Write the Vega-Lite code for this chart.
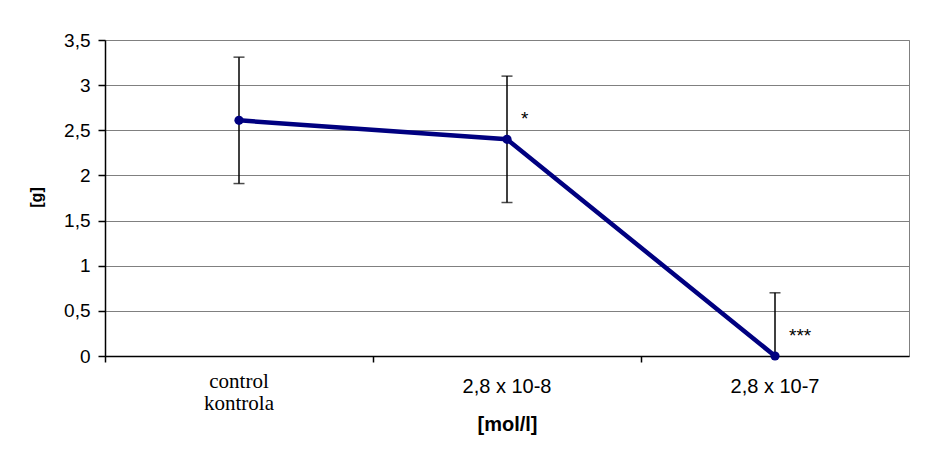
{
  "$schema": "https://vega.github.io/schema/vega-lite/v6.json",
  "width": 804,
  "height": 316,
  "autosize": {"type": "none"},
  "padding": {"left": 105, "top": 40, "right": 16, "bottom": 97},
  "background": "white",
  "config": {"view": {"stroke": "#808080", "strokeWidth": 1}, "font": "Liberation Sans"},
  "data": {"values": [
    {"conc": "control kontrola", "mean": 2.61, "lower": 1.91, "upper": 3.31, "sig": ""},
    {"conc": "2,8 x 10-8", "mean": 2.4, "lower": 1.7, "upper": 3.1, "sig": "*"},
    {"conc": "2,8 x 10-7", "mean": 0, "lower": -0.7, "upper": 0.7, "sig": "***"}
  ]},
  "encoding": {
    "x": {
      "field": "conc", "type": "nominal", "sort": null,
      "scale": {"paddingInner": 0, "paddingOuter": 0},
      "axis": {
        "title": "[mol/l]",
        "bandPosition": 0,
        "labelAngle": 0,
        "tickSize": 6,
        "tickColor": "black",
        "tickWidth": 1.5,
        "domainColor": "black",
        "domainWidth": 1.5,
        "grid": false,
        "labelExpr": "datum.value === 'control kontrola' ? ['control', 'kontrola'] : datum.label",
        "labelFont": {"condition": {"test": "datum.value === 'control kontrola'", "value": "Liberation Serif, Times New Roman, serif"}, "value": "Liberation Sans"},
        "labelFontSize": {"condition": {"test": "datum.value === 'control kontrola'", "value": 21}, "value": 20},
        "labelPadding": {"condition": {"test": "datum.value === 'control kontrola'", "value": 25}, "value": 30},
        "labelBaseline": "alphabetic",
        "labelLineHeight": 22,
        "labelColor": "black",
        "titleFont": "Liberation Sans",
        "titleFontSize": 20,
        "titleFontWeight": "bold",
        "titleColor": "black",
        "titleY": 74,
        "titleBaseline": "alphabetic"
      }
    }
  },
  "layer": [
    {
      "mark": {"type": "rule", "color": "black", "strokeWidth": 1.5, "clip": true},
      "encoding": {
        "y": {
          "field": "lower", "type": "quantitative",
          "scale": {"domain": [0, 3.5], "nice": false, "zero": false},
          "axis": {
            "title": "[g]",
            "values": [0, 0.5, 1, 1.5, 2, 2.5, 3, 3.5],
            "labelExpr": "replace(toString(datum.value), '.', ',')",
            "grid": true,
            "gridColor": "#808080",
            "gridWidth": 1,
            "gridOpacity": 1,
            "domainColor": "black",
            "domainWidth": 1.5,
            "tickColor": "black",
            "tickSize": 7,
            "tickWidth": 1.5,
            "labelPadding": 8,
            "labelFont": "Liberation Sans",
            "labelFontSize": 19,
            "labelColor": "black",
            "titleFont": "Liberation Sans",
            "titleFontSize": 16,
            "titleFontWeight": "bold",
            "titleColor": "black",
            "titleX": -69,
            "titleY": 157,
            "titleAngle": -90,
            "titleBaseline": "middle",
            "titleAlign": "center"
          }
        },
        "y2": {"field": "upper"}
      }
    },
    {
      "mark": {"type": "tick", "color": "black", "size": 11, "thickness": 1.5, "clip": true},
      "encoding": {"y": {"field": "upper", "type": "quantitative", "title": "[g]"}}
    },
    {
      "mark": {"type": "tick", "color": "black", "size": 11, "thickness": 1.5, "clip": true},
      "encoding": {"y": {"field": "lower", "type": "quantitative", "title": "[g]"}}
    },
    {
      "mark": {"type": "line", "color": "#000080", "strokeWidth": 4.5},
      "encoding": {"y": {"field": "mean", "type": "quantitative", "title": "[g]"}}
    },
    {
      "mark": {"type": "point", "filled": true, "color": "#000080", "size": 85, "opacity": 1},
      "encoding": {"y": {"field": "mean", "type": "quantitative", "title": "[g]"}}
    },
    {
      "mark": {"type": "text", "align": "left", "baseline": "alphabetic", "dx": 14, "dy": -14, "fontSize": 19, "font": "Liberation Sans", "color": "black"},
      "encoding": {
        "y": {"field": "mean", "type": "quantitative", "title": "[g]"},
        "text": {"field": "sig"}
      }
    }
  ]
}
